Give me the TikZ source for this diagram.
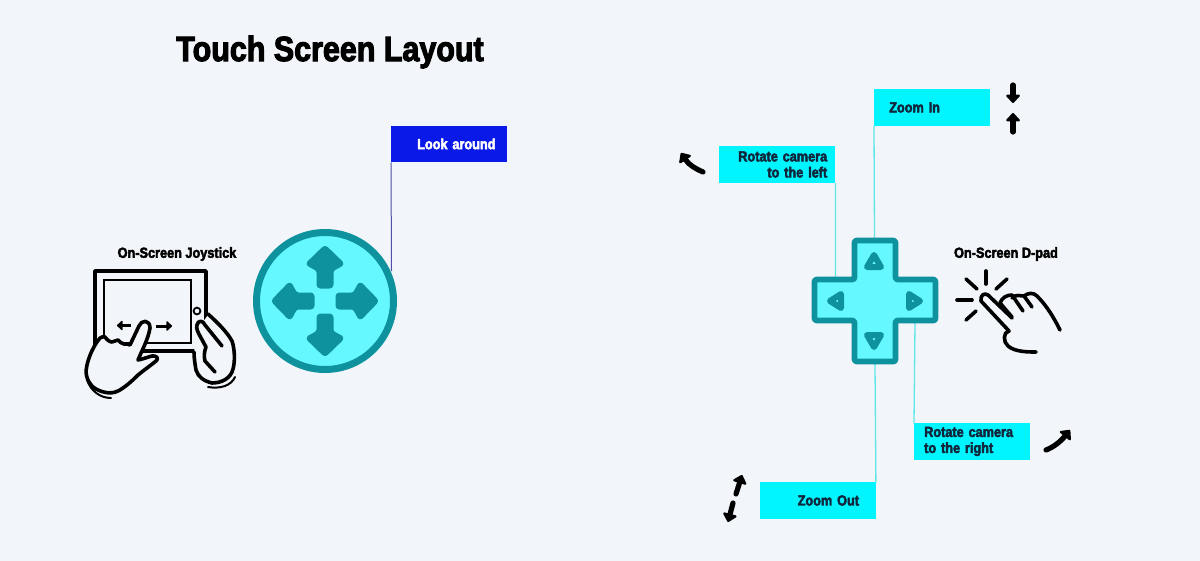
\documentclass[tikz,border=0pt]{standalone}
\usepackage{fontspec}
\usetikzlibrary{arrows.meta}
\setmainfont{Liberation Sans}
\newfontfamily\heavyfont{Liberation Sans}[FakeStretch=0.87,BoldFeatures={FakeStretch=0.87,FakeBold=3}]

\definecolor{pagebg}{HTML}{F2F5F9}
\definecolor{boxcyan}{HTML}{00F5FF}
\definecolor{boxblue}{HTML}{0A18E8}
\definecolor{padcyan}{HTML}{66F8FF}
\definecolor{padteal}{HTML}{0D929E}
\definecolor{wirecyan}{HTML}{5FE6E6}
\definecolor{wireblue}{HTML}{5050A8}
\definecolor{labelink}{HTML}{10263A}

\tikzset{
  labelbox/.style={anchor=north west, fill=boxcyan, text=labelink, minimum width=116pt, minimum height=36.5pt, inner sep=0pt, text width=116pt, font=\heavyfont\bfseries\fontsize{14.6}{16}\selectfont},
  iconlabel/.style={text=black, inner sep=0pt, font=\heavyfont\bfseries\fontsize{14.6}{16}\selectfont},
  wire/.style={wirecyan, line width=1.3pt},
  motion/.style={black, line width=5.2pt, line cap=round, -{Triangle[length=9pt,width=16pt,round]}},
  inkline/.style={black, line width=3.6pt, line cap=round, line join=round},
  padmark/.style={fill=padcyan, draw=padteal, line width=6pt, line join=round},
  padarrow/.style={fill=padteal, draw=padteal, line width=3pt, line join=round, rounded corners=2.5pt}
}

\begin{document}
\begin{tikzpicture}[x=1pt, y=-1pt]

\useasboundingbox (0,0) rectangle (1200,560);
\fill [pagebg] (-2,-2) rectangle (1202,562);

\node[text=black, inner sep=0pt, font=\heavyfont\bfseries\fontsize{35}{38}\selectfont] (title) at (330,52) {Touch Screen Layout};

% boxes
\node[labelbox, fill=boxblue, text=white, align=left] (lookaround) at (391,125.5) {\hspace*{26pt}Look around};
\node[labelbox, align=left] (zoomin) at (874,89) {\hspace*{15pt}Zoom In};
\node[labelbox, align=right] (rotleft) at (719,146) {Rotate camera\hspace*{8pt}\mbox{}\\to the left\hspace*{8pt}\mbox{}};
\node[labelbox, align=left] (rotright) at (914,423) {\hspace*{10pt}Rotate camera\\\hspace*{10pt}to the right};
\node[labelbox, align=left] (zoomout) at (759.5,482) {\hspace*{38pt}Zoom Out};

\node[iconlabel] (joylabel) at (177,254) {On-Screen Joystick};
\node[iconlabel] (dpadlabel) at (1006,254) {On-Screen D-pad};

% ends of the wires on the two pads
\coordinate (joyrim) at (391.5,271);
\coordinate (padleft) at (835.5,277);
\coordinate (padtop) at (874.5,238);
\coordinate (padbottom) at (875,364);
\coordinate (padright) at (915,323);

\draw [wireblue, line width=1pt] (lookaround.south west) -- (joyrim);
\draw [wire] (rotleft.south east) -- (padleft);
\draw [wire] (zoomin.south west) -- (padtop);
\draw [wire] (zoomout.north east) -- (padbottom);
\draw [wire] (rotright.north west) -- (padright);

% joystick
\draw [fill=padcyan, draw=padteal, line width=7pt] (325,301) circle (68.5);
\draw [padarrow] (325,246.5) -- (343,264) -- (332,270) -- (332,287) -- (318,287) -- (318,270) -- (307,264) -- cycle;
\draw [padarrow] (325,355.5) -- (343,338) -- (332,332) -- (332,315) -- (318,315) -- (318,332) -- (307,338) -- cycle;
\draw [padarrow] (272.5,301) -- (290,283) -- (296,294) -- (313,294) -- (313,308) -- (296,308) -- (290,319) -- cycle;
\draw [padarrow] (377.5,301) -- (360,283) -- (354,294) -- (337,294) -- (337,308) -- (354,308) -- (360,319) -- cycle;

% d-pad
\draw [fill=padcyan, draw=padteal, line width=5.6pt, line join=round, rounded corners=2pt] (854.5,240.5) -- (895.5,240.5) -- (895.5,279.5) -- (935.5,279.5) -- (935.5,320.5) -- (895.5,320.5) -- (895.5,361.5) -- (854.5,361.5) -- (854.5,320.5) -- (814.5,320.5) -- (814.5,279.5) -- (854.5,279.5) -- cycle;
\draw [padmark] (874,255) -- (881,267) -- (867,267) -- cycle;
\draw [padmark] (874,347) -- (881,335) -- (867,335) -- cycle;
\draw [padmark] (830,301) -- (841,294) -- (841,308) -- cycle;
\draw [padmark] (920,301) -- (909,294) -- (909,308) -- cycle;

% tablet
\draw [black, line width=3.6pt, line join=round] (95,271) rectangle (206,351);
\draw [black, line width=2pt] (103.5,279.5) rectangle (190.5,343);
\draw [black, line width=1.8pt] (197,311) circle (3.4);
\draw [black, line width=3pt, -{Triangle[length=6pt,width=11pt,round]}] (131,325.5) -- (117,325.5);
\draw [black, line width=3pt, -{Triangle[length=6pt,width=11pt,round]}] (156,326) -- (172,326);

% left hand
\draw [inkline, fill=pagebg] (139,326) .. controls (141,320) and (150,319) .. (150,328) .. controls (148,340) and (142,350) .. (138,360) .. controls (143,359) and (148,357) .. (152,356) .. controls (157,355) and (159,359) .. (156,361) .. controls (150,366) and (144,370) .. (138,375) .. controls (131,382) and (124,388) .. (118,391) .. controls (110,395) and (100,392) .. (93,387) .. controls (86,380) and (85,372) .. (87,365) .. controls (89,356) and (94,345) .. (100,338) .. controls (102,336) and (104,337) .. (105,337) .. controls (107,340) and (110,342) .. (112,342) .. controls (114,342) and (116,340) .. (118,340) .. controls (120,342) and (122,344) .. (124,344) .. controls (127,344) and (129,344) .. (130,345) -- cycle;
\draw [inkline, line width=2pt] (87,380) .. controls (91,391) and (100,398) .. (111,398);

% right hand
\fill [pagebg] (208,315) -- (232,340) -- (234,367) -- (228,381) -- (212,383) -- (197,372) -- (194,353) -- (197,330) -- cycle;
\draw [inkline] (208,314) .. controls (218,323) and (227,332) .. (232,341) .. controls (235,350) and (235,362) .. (233,369) .. controls (231,378) and (222,383) .. (212,383) .. controls (204,381) and (198,377) .. (196,370) .. controls (195,364) and (194,358) .. (194,352);
\draw [inkline] (222,346) -- (205,325) .. controls (203,320) and (198,320) .. (197,325) .. controls (196,329) and (198,332) .. (200,336) -- (206,347) .. controls (204,352) and (204,357) .. (205,361) -- (215,372);
\draw [inkline, line width=2pt] (208,387) .. controls (220,389) and (231,386) .. (235,377);

% hand on the d-pad
\draw [inkline] (986,271) -- (986,284);
\draw [inkline] (966,279) -- (977,289);
\draw [inkline] (1007,279) -- (996,289);
\draw [inkline] (957,300) -- (972,300);
\draw [inkline] (966,320) -- (976,311);
\draw [inkline] (1012,318) -- (988,295) .. controls (984,292) and (980,296) .. (981,301) -- (1009,331) .. controls (1003,332) and (1003,342) .. (1008,346) .. controls (1015,352) and (1028,352) .. (1036,352);
\draw [inkline] (1012,317) -- (1000,303) .. controls (1002,298) and (1006,295) .. (1012,295) -- (1023,311);
\draw [inkline] (1012,298) .. controls (1016,294) and (1020,296) .. (1024,296) .. controls (1028,293) and (1033,292) .. (1037,296) .. controls (1047,306) and (1054,318) .. (1060,330);
\draw [inkline] (1024,296) -- (1032,307);

% motion arrows
\draw [motion] (1013,85) -- (1013,103);
\draw [motion] (1013,132) -- (1013,113);
\draw [motion] (703,172) .. controls (696,169) and (689,165) .. (681,153);
\draw [motion] (1046,450) .. controls (1054,447) and (1061,441) .. (1070,430);
\draw [motion] (736,494) -- (742,475);
\draw [motion] (733,503) -- (728,522);

\end{tikzpicture}
\end{document}
